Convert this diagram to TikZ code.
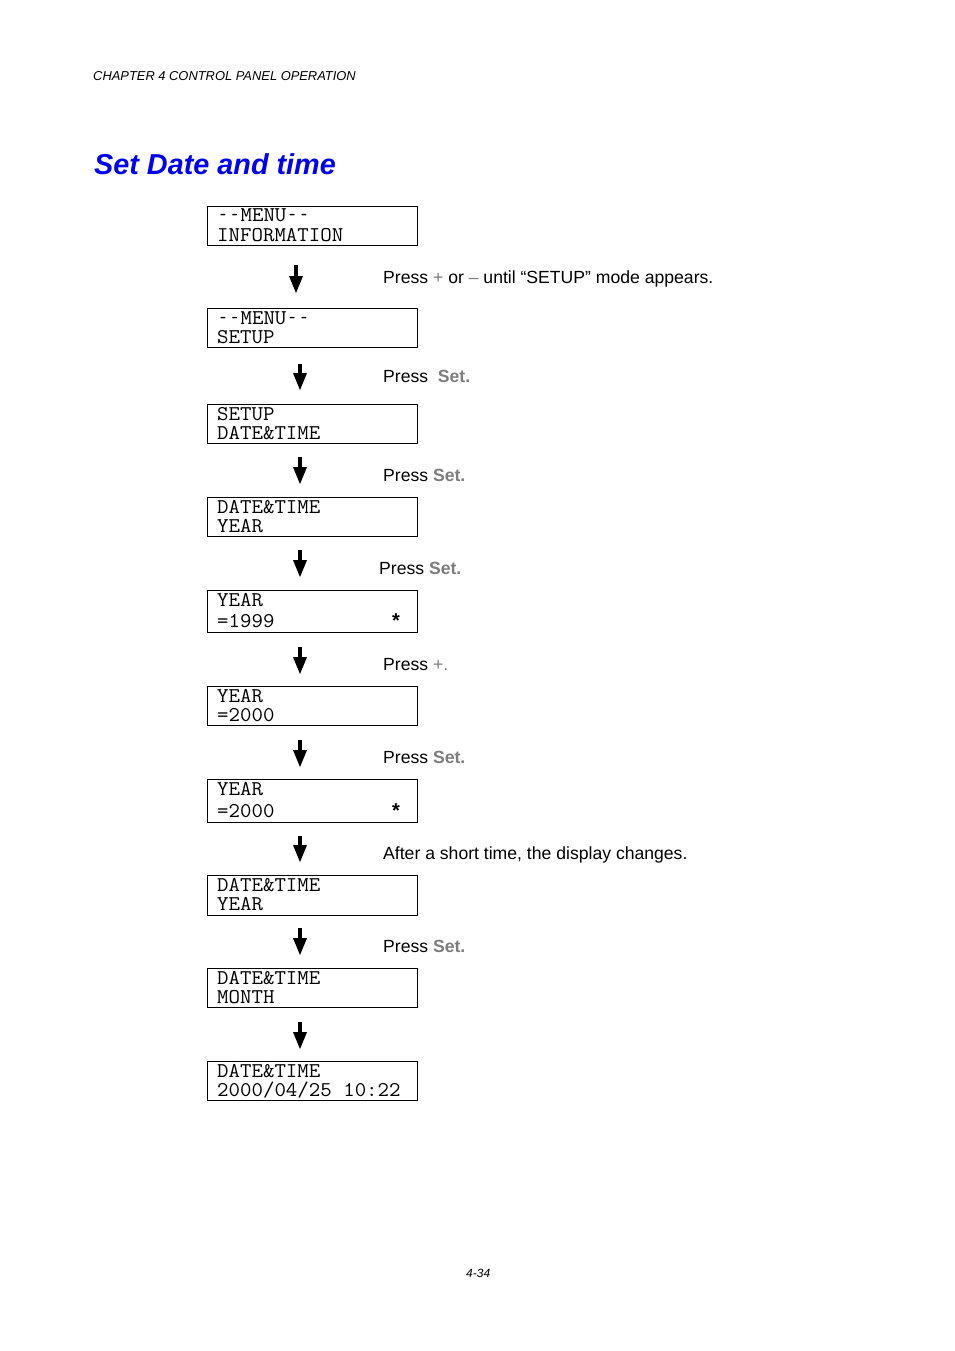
\documentclass[tikz,border=0pt]{standalone}
\usepackage{fontspec}
\setmainfont{Liberation Sans}
\usetikzlibrary{arrows.meta}
\definecolor{keygray}{RGB}{125,125,125}
\definecolor{titleblue}{RGB}{0,0,245}
\tikzset{
  lcdbox/.style={draw, line width=0.9pt, rectangle, minimum width=210pt, minimum height=#1, anchor=north west, inner sep=0pt},
  lcdtext/.style={anchor=base west, inner sep=0pt, font=\fontsize{21}{21}\selectfont\ttfamily},
  star/.style={anchor=base, inner sep=0pt, font=\fontsize{20}{20}\selectfont\bfseries},
  label/.style={anchor=base west, inner sep=0pt, font=\fontsize{17.6}{20}\selectfont},
  downarrow/.style={line width=4.5pt, -{Triangle[length=18pt,width=12.5pt]}},
}
\newcommand{\key}[1]{\textcolor{keygray}{\textbf{#1}}}
\newcommand{\sym}[1]{\textcolor{keygray}{#1}}
\newcommand{\lcd}[1]{\scalebox{1.06}[1]{#1}}
\newcommand{\dd}{\makebox[0.525em]{\scalebox{0.55}[1]{-}}}
\begin{document}
\begin{tikzpicture}[x=1pt,y=-1pt]
\useasboundingbox (0,0) rectangle (954,1351);
% header
\node[anchor=base west, inner sep=0pt, font=\fontsize{12.9}{14}\selectfont\itshape] (hdr) at (93,81) {CHAPTER 4 CONTROL PANEL OPERATION};
\node[anchor=base west, inner sep=0pt, font=\fontsize{28.8}{32}\selectfont\bfseries\itshape, text=titleblue] (title) at (94,175) {Set Date and time};
\node[anchor=base west, inner sep=0pt, font=\fontsize{12}{14}\selectfont\itshape] (page) at (466,1277) {4-34};
% boxes
\node[lcdbox=39pt] (b1) at (207,206) {};
\node[lcdtext] (t1a) at (217,222) {\lcd{\dd\dd MENU\dd\dd}};
\node[lcdtext] (t1b) at (217,241) {\lcd{INFORMATION}};
\node[lcdbox=39pt] (b2) at (207,308) {};
\node[lcdtext] (t2a) at (217,324) {\lcd{\dd\dd MENU\dd\dd}};
\node[lcdtext] (t2b) at (217,343) {\lcd{SETUP}};
\node[lcdbox=39pt] (b3) at (207,404) {};
\node[lcdtext] (t3a) at (217,420) {\lcd{SETUP}};
\node[lcdtext] (t3b) at (217,439) {\lcd{DATE\&TIME}};
\node[lcdbox=39pt] (b4) at (207,497) {};
\node[lcdtext] (t4a) at (217,513) {\lcd{DATE\&TIME}};
\node[lcdtext] (t4b) at (217,532) {\lcd{YEAR}};
\node[lcdbox=42pt] (b5) at (207,590) {};
\node[lcdtext] (t5a) at (217,606) {\lcd{YEAR}};
\node[lcdtext] (t5b) at (217,627) {\lcd{=1999}};
\node[star] (s5) at (396,627) {*};
\node[lcdbox=39pt] (b6) at (207,686) {};
\node[lcdtext] (t6a) at (217,702) {\lcd{YEAR}};
\node[lcdtext] (t6b) at (217,721) {\lcd{=2000}};
\node[lcdbox=43pt] (b7) at (207,779) {};
\node[lcdtext] (t7a) at (217,795) {\lcd{YEAR}};
\node[lcdtext] (t7b) at (217,817) {\lcd{=2000}};
\node[star] (s7) at (396,817) {*};
\node[lcdbox=40pt] (b8) at (207,875) {};
\node[lcdtext] (t8a) at (217,891) {\lcd{DATE\&TIME}};
\node[lcdtext] (t8b) at (217,910) {\lcd{YEAR}};
\node[lcdbox=39pt] (b9) at (207,968) {};
\node[lcdtext] (t9a) at (217,984) {\lcd{DATE\&TIME}};
\node[lcdtext] (t9b) at (217,1003) {\lcd{MONTH}};
\node[lcdbox=39pt] (b10) at (207,1061) {};
\node[lcdtext] (t10a) at (217,1077) {\lcd{DATE\&TIME}};
\node[lcdtext] (t10b) at (217,1096) {\lcd{2000/04/25 10:22}};
% arrows
\coordinate (a1s) at (296,265); \coordinate (a1e) at (296,294);
\coordinate (a2s) at (300,364); \coordinate (a2e) at (300,391);
\coordinate (a3s) at (300,457); \coordinate (a3e) at (300,485);
\coordinate (a4s) at (300,550); \coordinate (a4e) at (300,578);
\coordinate (a5s) at (300,647); \coordinate (a5e) at (300,675);
\coordinate (a6s) at (300,740); \coordinate (a6e) at (300,768);
\coordinate (a7s) at (300,836); \coordinate (a7e) at (300,863);
\coordinate (a8s) at (300,928); \coordinate (a8e) at (300,956);
\coordinate (a9s) at (300,1022); \coordinate (a9e) at (300,1050);
\foreach \i in {1,...,9} \draw[downarrow] (a\i s) -- (a\i e);
% labels
\node[label] (l1) at (383,283) {Press \sym{+} or \sym{–} until “SETUP” mode appears.};
\node[label] (l2) at (383,382) {Press\ \ \key{Set.}};
\node[label] (l3) at (383,481) {Press \key{Set.}};
\node[label] (l4) at (379,574) {Press \key{Set.}};
\node[label] (l5) at (383,670) {Press \sym{+.}};
\node[label] (l6) at (383,763) {Press \key{Set.}};
\node[label] (l7) at (383,859) {After a short time, the display changes.};
\node[label] (l8) at (383,952) {Press \key{Set.}};
\end{tikzpicture}
\end{document}
